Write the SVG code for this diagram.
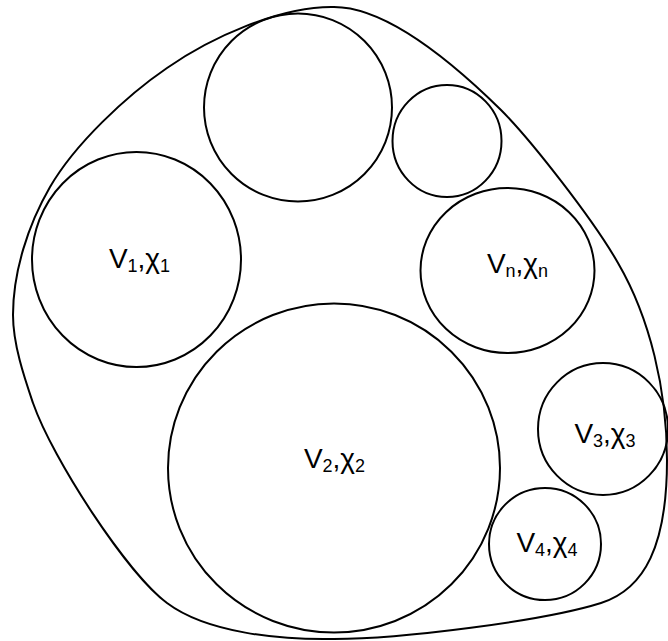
<svg xmlns="http://www.w3.org/2000/svg" width="668" height="641" viewBox="0 0 668 641">
<style>
.s{fill:none;stroke:#000;stroke-width:2}
.t{font-family:"Liberation Sans",Arial,sans-serif;font-size:28px;fill:#000;text-anchor:middle}
.b{font-size:18px}
</style>
<rect width="668" height="641" fill="#fff"/>
<g id="outer">
<path class="s" d="M334,7 C380,7 440,50 501,110 C530,139 593,219 618,263 C650,318 667,390 667,460 C667,545 645,589 601,603 C544,621 400,639 334,639 C280,640 207,633 167,603 C127,573 53,460 33,403 C25,379.5 13,345 13,315 C13,272 28,225 50,187 C75,144 126,96 167,68 C210,38 280,6 334,7 Z"/>
</g>
<g id="top"><circle class="s" cx="298" cy="107.5" r="94"/></g>
<g id="small"><ellipse class="s" cx="447" cy="141" rx="54.5" ry="56"/></g>
<g id="v1"><ellipse class="s" cx="136.5" cy="259.5" rx="104.5" ry="107.5"/>
<text class="t" x="139.5" y="268">V<tspan class="b" dy="4">1</tspan><tspan dy="-4">,χ</tspan><tspan class="b" dy="4">1</tspan></text></g>
<g id="vn"><ellipse class="s" cx="507.5" cy="270.5" rx="87" ry="82.5"/>
<text class="t" x="517.5" y="273">V<tspan class="b" dy="4">n</tspan><tspan dy="-4">,χ</tspan><tspan class="b" dy="4">n</tspan></text></g>
<g id="v2"><ellipse class="s" cx="334" cy="468" rx="166" ry="164.5"/>
<text class="t" x="334.5" y="468">V<tspan class="b" dy="4">2</tspan><tspan dy="-4">,χ</tspan><tspan class="b" dy="4">2</tspan></text></g>
<g id="v3"><ellipse class="s" cx="603" cy="429" rx="65" ry="66"/>
<text class="t" x="605" y="443">V<tspan class="b" dy="4">3</tspan><tspan dy="-4">,χ</tspan><tspan class="b" dy="4">3</tspan></text></g>
<g id="v4"><circle class="s" cx="545" cy="544" r="56"/>
<text class="t" x="547" y="552">V<tspan class="b" dy="4">4</tspan><tspan dy="-4">,χ</tspan><tspan class="b" dy="4">4</tspan></text></g>
<g id="connectors"/>
</svg>
